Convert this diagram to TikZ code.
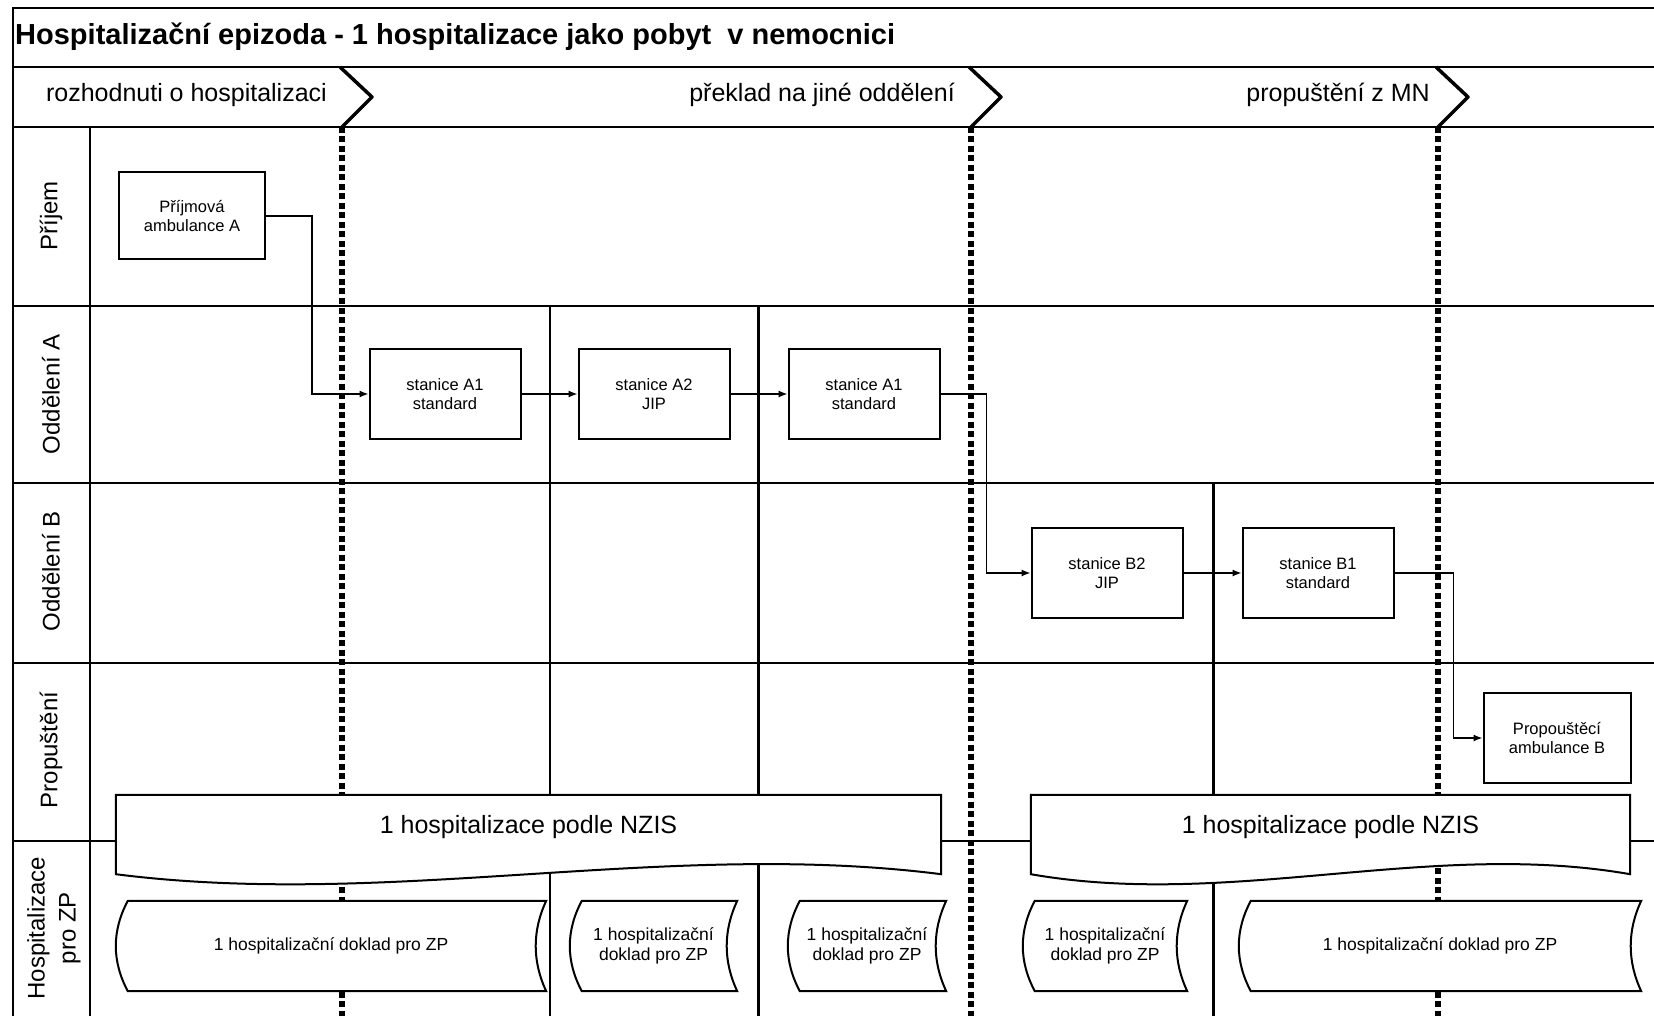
\documentclass[tikz,border=0pt]{standalone}
\usepackage{fontspec}
\setmainfont{Liberation Sans}
\usetikzlibrary{arrows.meta,calc}
\tikzset{
  stanice/.style={draw,line width=2pt,minimum width=151pt,minimum height=90pt,
    inner sep=0pt,align=center,font=\fontsize{16.5}{19}\selectfont},
  sipka/.style={line width=1.3pt,-{Latex[length=9pt,width=7pt]}},
  hranice/.style={line width=5.5pt,dash pattern=on 6pt off 3.5pt},
  predel/.style={line width=3.5pt,line join=round},
  drahy/.style={rotate=90,align=center,font=\fontsize{24}{31}\selectfont},
  milnik/.style={anchor=east,inner sep=0pt,font=\fontsize{25}{30}\selectfont},
  pasek/.style={minimum height=79pt,inner sep=0pt},
  pasektext/.style={inner sep=0pt,font=\fontsize{25}{30}\selectfont},
  doklad/.style={fill=white,minimum height=90pt,inner sep=0pt,align=center,
    font=\fontsize{17.5}{19.5}\selectfont},
}
\begin{document}
\begin{tikzpicture}[x=1pt,y=-1pt]
\useasboundingbox (0,0) rectangle (1654,1016);
% ramec a drahy
\draw[line width=1.5pt] (13,1016) -- (13,8) -- (1654,8);
\draw[line width=1.5pt] (13,67) -- (1654,67);
\draw[line width=1.5pt] (13,127) -- (1654,127);
\foreach \y in {306,483,663,841}
  \draw[line width=1.5pt] (13,\y) -- (1654,\y);
\draw[line width=2pt] (90,127) -- (90,1016);
\draw[line width=1.5pt] (550,306) -- (550,1016);
\draw[line width=3pt] (758,306) -- (758,1016);
\draw[line width=3pt] (1213,483) -- (1213,1016);

\node[anchor=west,inner sep=0pt,font=\fontsize{29}{34}\selectfont\bfseries] (titul) at (15,37)
  {Hospitalizační epizoda - 1 hospitalizace jako pobyt \ v nemocnici};

% milniky
\node[milnik] (m1) at (327,95) {rozhodnuti o hospitalizaci};
\node[milnik] (m2) at (955,95) {překlad na jiné oddělení};
\node[milnik] (m3) at (1430,95) {propuštění z MN};
\foreach \d in {342,971,1438}{
  \draw[predel] (\d-2,67) -- (\d+30,97) -- (\d,127);
  \draw[hranice] (\d,127) -- (\d,1016);
}

\node[drahy] (lPrijem) at (51,216) {Příjem};
\node[drahy] (lOddA) at (51,394) {Oddělení A};
\node[drahy] (lOddB) at (51,571) {Oddělení B};
\node[drahy] (lProp) at (51,750) {Propuštění};
\node[drahy] (lZP) at (54,928) {Hospitalizace\\pro ZP};

% stanice
\node[stanice,minimum width=146pt,minimum height=87pt] (prijem) at (192,216) {Příjmová\\ambulance A};
\node[stanice] (stA1) at (445,394) {stanice A1\\standard};
\node[stanice] (stA2) at (654,394) {stanice A2\\JIP};
\node[stanice] (stA1b) at (864,394) {stanice A1\\standard};
\node[stanice] (stB2) at (1107,573) {stanice B2\\JIP};
\node[stanice] (stB1) at (1318,573) {stanice B1\\standard};
\node[stanice,minimum width=147pt] (propB) at (1557,738) {Propouštěcí\\ambulance B};

\draw[sipka] (prijem.east) -- ++(46,0) |- (stA1.west);
\draw[sipka] (stA1.east) -- (stA2.west);
\draw[sipka] (stA2.east) -- (stA1b.west);
\draw[sipka] (stA1b.east) -- ++(46,0) |- (stB2.west);
\draw[sipka] (stB2.east) -- (stB1.west);
\draw[sipka] (stB1.east) -- ++(59,0) |- (propB.west);

% hospitalizace podle NZIS
\node[pasek,minimum width=825pt] (nzis1) at (528.5,834.5) {};
\node[pasek,minimum width=599pt] (nzis2) at (1330.5,834.5) {};
\draw[line width=2pt,fill=white] (nzis1.south west) -- (nzis1.north west) -- (nzis1.north east)
  -- (nzis1.south east) .. controls +(-275,-35) and +(275,35) .. (nzis1.south west) -- cycle;
\draw[line width=2pt,fill=white] (nzis2.south west) -- (nzis2.north west) -- (nzis2.north east)
  -- (nzis2.south east) .. controls +(-200,-35) and +(200,35) .. (nzis2.south west) -- cycle;
\node[pasektext] (nzis1t) at ($(nzis1)+(0,-7)$) {1 hospitalizace podle NZIS};
\node[pasektext] (nzis2t) at ($(nzis2)+(0,-7)$) {1 hospitalizace podle NZIS};

% doklady pro ZP
\node[doklad,minimum width=430pt] (doc1) at (331,946) {1 hospitalizační doklad pro ZP};
\node[doklad,minimum width=167pt] (doc2) at (653.5,946) {1 hospitalizační\\doklad pro ZP};
\node[doklad,minimum width=158pt] (doc3) at (867,946) {1 hospitalizační\\doklad pro ZP};
\node[doklad,minimum width=164pt] (doc4) at (1105,946) {1 hospitalizační\\doklad pro ZP};
\node[doklad,minimum width=402pt] (doc5) at (1440,946) {1 hospitalizační doklad pro ZP};
\foreach \d in {doc1,doc2,doc3,doc4,doc5}
  \draw[line width=2pt] ($(\d.north west)+(12,0)$) -- (\d.north east)
    .. controls +(-14,30) and +(-14,-30) .. (\d.south east)
    -- ($(\d.south west)+(12,0)$)
    .. controls +(-16,-30) and +(-16,30) .. ($(\d.north west)+(12,0)$) -- cycle;
\end{tikzpicture}
\end{document}
